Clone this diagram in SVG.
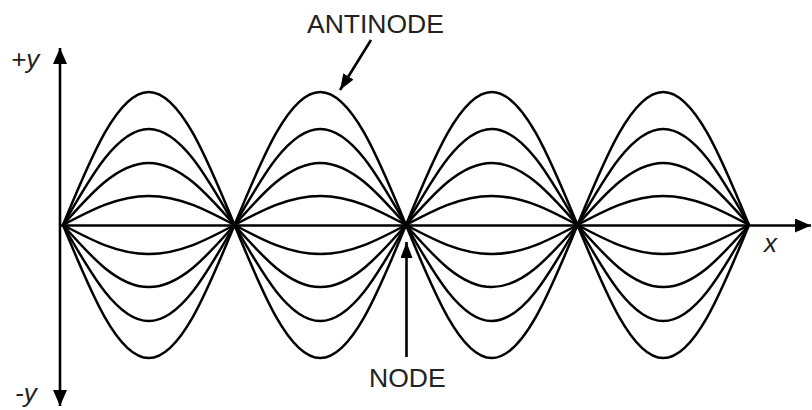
<svg xmlns="http://www.w3.org/2000/svg" xmlns:xlink="http://www.w3.org/1999/xlink" width="812" height="410" viewBox="0 0 812 410">
<style>
.ax{stroke:#000;stroke-width:2.6;fill:none}
.w{stroke:#000;stroke-width:2.5;fill:none}
.lbl{font-family:"Liberation Sans",Arial,sans-serif;font-size:26.5px;fill:#222}
.it{font-family:"Liberation Sans",Arial,sans-serif;font-size:26px;font-style:italic;fill:#222}
</style>
<defs>
<marker id="ah" viewBox="0 0 16 14" refX="16" refY="7" markerWidth="16" markerHeight="14" markerUnits="userSpaceOnUse" orient="auto-start-reverse"><path d="M0,0 L16,7 L0,14 z" fill="#000"/></marker>
<marker id="ahs" viewBox="0 0 16 12" refX="16" refY="6" markerWidth="16" markerHeight="12" markerUnits="userSpaceOnUse" orient="auto"><path d="M0,0 L16,6 L0,12 z" fill="#000"/></marker>
<g id="upper">
<path class="w" d="M0,0 c27.97,-68.14 54.72,-133 85.75,-133 s57.78,64.86 85.75,133 c27.97,-68.14 54.72,-133 85.75,-133 s57.78,64.86 85.75,133 c27.97,-68.14 54.72,-133 85.75,-133 s57.78,64.86 85.75,133 c27.97,-68.14 54.72,-133 85.75,-133 s57.78,64.86 85.75,133"/>
<path class="w" d="M0,0 c27.97,-49.18 54.72,-96 85.75,-96 s57.78,46.82 85.75,96 c27.97,-49.18 54.72,-96 85.75,-96 s57.78,46.82 85.75,96 c27.97,-49.18 54.72,-96 85.75,-96 s57.78,46.82 85.75,96 c27.97,-49.18 54.72,-96 85.75,-96 s57.78,46.82 85.75,96"/>
<path class="w" d="M0,0 c27.97,-31.76 54.72,-62 85.75,-62 s57.78,30.24 85.75,62 c27.97,-31.76 54.72,-62 85.75,-62 s57.78,30.24 85.75,62 c27.97,-31.76 54.72,-62 85.75,-62 s57.78,30.24 85.75,62 c27.97,-31.76 54.72,-62 85.75,-62 s57.78,30.24 85.75,62"/>
<path class="w" d="M0,0 c27.97,-14.86 54.72,-29 85.75,-29 s57.78,14.14 85.75,29 c27.97,-14.86 54.72,-29 85.75,-29 s57.78,14.14 85.75,29 c27.97,-14.86 54.72,-29 85.75,-29 s57.78,14.14 85.75,29 c27.97,-14.86 54.72,-29 85.75,-29 s57.78,14.14 85.75,29"/>
</g>
</defs>
<g id="waves">
<use xlink:href="#upper" href="#upper" transform="translate(63,225)"/>
<use xlink:href="#upper" href="#upper" transform="translate(63,225) scale(1,-1)"/>
</g>
<g id="axes">
<line class="ax" x1="60" y1="406" x2="60" y2="48" marker-start="url(#ah)" marker-end="url(#ah)"/>
<line class="ax" x1="60" y1="225.5" x2="811" y2="225.5" marker-end="url(#ah)"/>
</g>
<g id="connectors">
<line class="ax" x1="371" y1="40" x2="340" y2="90" marker-end="url(#ahs)"/>
<line class="ax" x1="406.5" y1="357" x2="406.5" y2="242" marker-end="url(#ahs)"/>
</g>
<g id="labels">
<text class="it" x="11" y="68">+y</text>
<text class="it" x="15" y="402">-y</text>
<text class="it" x="764" y="252">x</text>
<text class="lbl" x="307" y="33">ANTINODE</text>
<text class="lbl" x="369" y="387">NODE</text>
</g>
</svg>
